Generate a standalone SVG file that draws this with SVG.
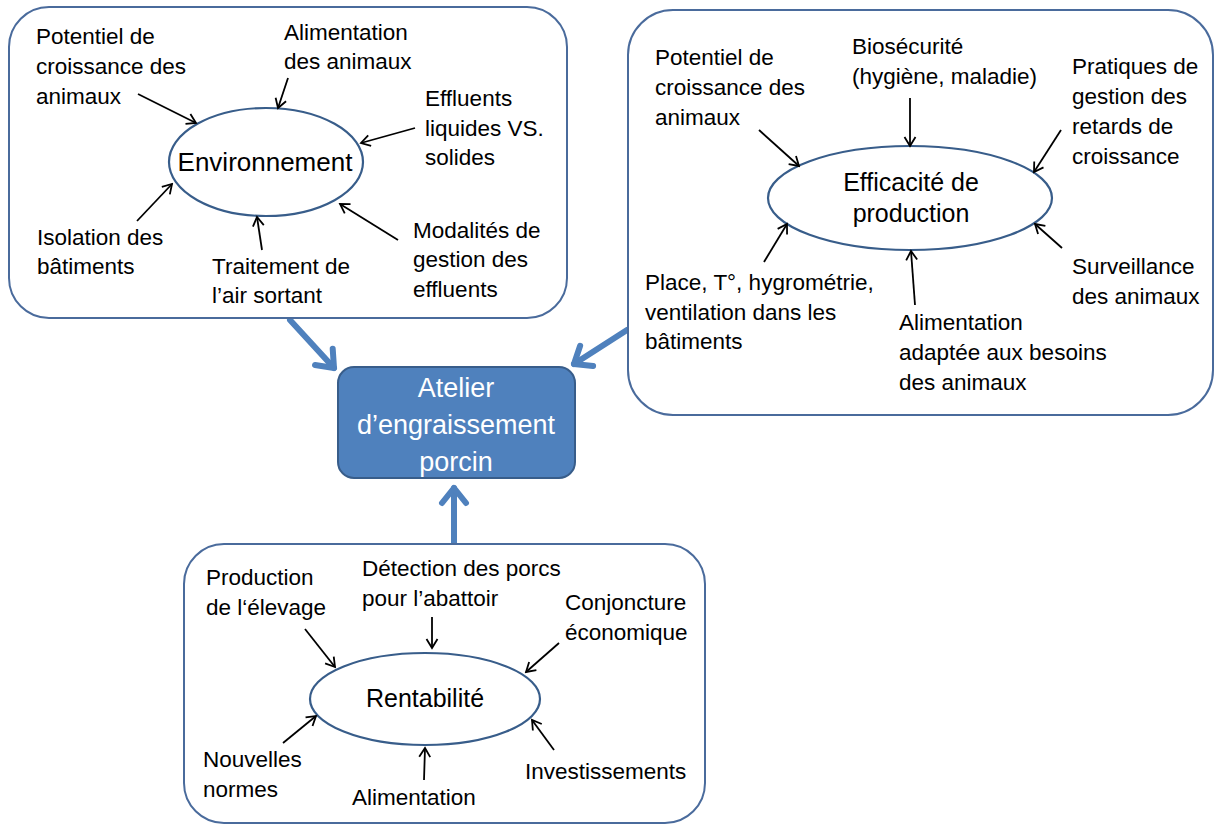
<svg xmlns="http://www.w3.org/2000/svg" width="1216" height="825" viewBox="0 0 1216 825">
<defs>
<style>
.box{fill:#fff;stroke:#4a6b9c;stroke-width:2}
.ell{fill:#fff;stroke:#385d8a;stroke-width:2.2}
.lbl{font-family:"Liberation Sans",Arial,sans-serif;font-size:22.5px;fill:#000}
.ctr{font-family:"Liberation Sans",Arial,sans-serif;font-size:25px;fill:#000;text-anchor:middle}
.main{font-family:"Liberation Sans",Arial,sans-serif;font-size:27px;fill:#fff;text-anchor:middle}
.thin{stroke:#000;stroke-width:1.8;fill:none;marker-end:url(#ah)}
.thick{stroke:#4f81bd;stroke-width:6;fill:none;stroke-linecap:round;marker-end:url(#bh)}
</style>
<marker id="ah" markerUnits="userSpaceOnUse" viewBox="-12 -7 14 14" refX="0" refY="0" markerWidth="14" markerHeight="14" orient="auto">
<path d="M-9,-5.5 L0,0 L-9,5.5" fill="none" stroke="#000" stroke-width="1.8"/>
</marker>
<marker id="bh" markerUnits="userSpaceOnUse" viewBox="-22 -16 26 32" refX="0" refY="0" markerWidth="26" markerHeight="32" orient="auto">
<path d="M-15,-12 L0,0 L-15,12" fill="none" stroke="#4f81bd" stroke-width="6" stroke-linecap="round" stroke-linejoin="round"/>
</marker>
</defs>
<rect width="1216" height="825" fill="#fff"/>

<g id="connectors">
<line class="thick" x1="290" y1="320" x2="334" y2="368"/>
<line class="thick" x1="627" y1="330" x2="574" y2="364"/>
<line class="thick" x1="454" y1="545" x2="454" y2="488"/>
</g>

<g id="env-group">
<rect class="box" x="9" y="7" width="558" height="311" rx="40"/>
<ellipse id="env" class="ell" cx="266" cy="162" rx="97" ry="54"/>
<text class="ctr" x="265" y="171" style="font-size:26px">Environnement</text>
<text class="lbl" x="36" y="44">Potentiel de</text>
<text class="lbl" x="36" y="74">croissance des</text>
<text class="lbl" x="36" y="104">animaux</text>
<text class="lbl" x="284" y="40">Alimentation</text>
<text class="lbl" x="284" y="69">des animaux</text>
<text class="lbl" x="425" y="106">Effluents</text>
<text class="lbl" x="425" y="136">liquides VS.</text>
<text class="lbl" x="425" y="165">solides</text>
<text class="lbl" x="37" y="245">Isolation des</text>
<text class="lbl" x="37" y="274">bâtiments</text>
<text class="lbl" x="212" y="274">Traitement de</text>
<text class="lbl" x="212" y="303">l’air sortant</text>
<text class="lbl" x="413" y="238">Modalités de</text>
<text class="lbl" x="413" y="267">gestion des</text>
<text class="lbl" x="413" y="297">effluents</text>
<g>
<line class="thin" x1="138" y1="94" x2="196" y2="123"/>
<line class="thin" x1="288" y1="78" x2="278" y2="108"/>
<line class="thin" x1="415" y1="128" x2="361" y2="143"/>
<line class="thin" x1="137" y1="221" x2="172" y2="184"/>
<line class="thin" x1="262" y1="250" x2="257" y2="217"/>
<line class="thin" x1="398" y1="240" x2="340" y2="204"/>
</g>
</g>

<g id="eff-group">
<rect class="box" x="628" y="10" width="585" height="405" rx="45"/>
<ellipse id="eff" class="ell" cx="910" cy="198" rx="142" ry="52"/>
<text class="ctr" x="911" y="191">Efficacité de</text>
<text class="ctr" x="911" y="222">production</text>
<text class="lbl" x="655" y="65">Potentiel de</text>
<text class="lbl" x="655" y="95">croissance des</text>
<text class="lbl" x="655" y="125">animaux</text>
<text class="lbl" x="852" y="54">Biosécurité</text>
<text class="lbl" x="852" y="84">(hygiène, maladie)</text>
<text class="lbl" x="1072" y="74">Pratiques de</text>
<text class="lbl" x="1072" y="104">gestion des</text>
<text class="lbl" x="1072" y="134">retards de</text>
<text class="lbl" x="1072" y="164">croissance</text>
<text class="lbl" x="645" y="290">Place, T°, hygrométrie,</text>
<text class="lbl" x="645" y="320">ventilation dans les</text>
<text class="lbl" x="645" y="349">bâtiments</text>
<text class="lbl" x="899" y="330">Alimentation</text>
<text class="lbl" x="899" y="360">adaptée aux besoins</text>
<text class="lbl" x="899" y="390">des animaux</text>
<text class="lbl" x="1072" y="274">Surveillance</text>
<text class="lbl" x="1072" y="304">des animaux</text>
<g>
<line class="thin" x1="759" y1="130" x2="799" y2="166"/>
<line class="thin" x1="910" y1="98" x2="910" y2="146"/>
<line class="thin" x1="1061" y1="130" x2="1034" y2="172"/>
<line class="thin" x1="764" y1="262" x2="787" y2="224"/>
<line class="thin" x1="915" y1="305" x2="911" y2="251"/>
<line class="thin" x1="1062" y1="248" x2="1035" y2="224"/>
</g>
</g>

<g id="atelier">
<rect x="338" y="367" width="237" height="111" rx="16" fill="#4f81bd" stroke="#385d8a" stroke-width="2"/>
<text class="main" x="456" y="397">Atelier</text>
<text class="main" x="456" y="434">d’engraissement</text>
<text class="main" x="456" y="471">porcin</text>
</g>

<g id="rent-group">
<rect class="box" x="184" y="544" width="521" height="279" rx="40"/>
<ellipse id="rent" class="ell" cx="425" cy="699" rx="115" ry="46"/>
<text class="ctr" x="425" y="707">Rentabilité</text>
<text class="lbl" x="206" y="585">Production</text>
<text class="lbl" x="206" y="615">de l‘élevage</text>
<text class="lbl" x="362" y="576">Détection des porcs</text>
<text class="lbl" x="362" y="606">pour l’abattoir</text>
<text class="lbl" x="565" y="610">Conjoncture</text>
<text class="lbl" x="565" y="640">économique</text>
<text class="lbl" x="203" y="767">Nouvelles</text>
<text class="lbl" x="203" y="797">normes</text>
<text class="lbl" x="352" y="805">Alimentation</text>
<text class="lbl" x="525" y="779">Investissements</text>
<g>
<line class="thin" x1="305" y1="629" x2="335" y2="667"/>
<line class="thin" x1="432" y1="617" x2="432" y2="648"/>
<line class="thin" x1="559" y1="643" x2="526" y2="672"/>
<line class="thin" x1="283" y1="743" x2="316" y2="716"/>
<line class="thin" x1="424" y1="780" x2="425" y2="748"/>
<line class="thin" x1="554" y1="750" x2="532" y2="720"/>
</g>
</g>
</svg>
